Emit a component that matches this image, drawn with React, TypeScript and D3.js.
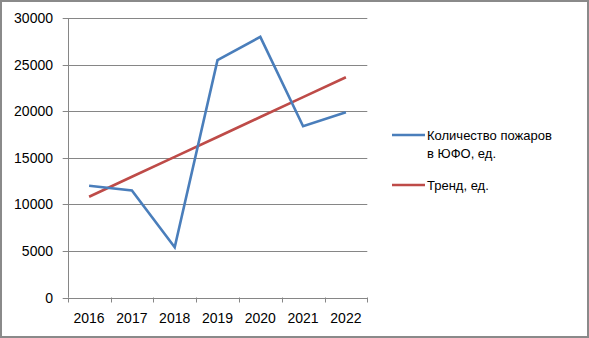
import { useEffect, useRef } from 'react'
import * as d3 from 'd3'

const years = ['2016', '2017', '2018', '2019', '2020', '2021', '2022']
const fires = [12000, 11500, 5400, 25500, 28000, 18400, 19900]
const trend = [10830, 12970, 15110, 17250, 19390, 21530, 23670]
const yTicks = [0, 5000, 10000, 15000, 20000, 25000, 30000]

const W = 589
const H = 338
const PLOT = { left: 67.7, right: 367.3, top: 18.3, bottom: 297.5 }
const FONT = '"Liberation Sans", Arial, sans-serif'
const BLUE = '#4a7ebb'
const RED = '#be4b48'
const GRID = '#868686'

export default function App() {
  const ref = useRef<SVGSVGElement>(null)

  useEffect(() => {
    if (!ref.current) return
    const svg = d3.select(ref.current)
    svg.selectAll('*').remove()

    svg.append('rect').attr('width', W).attr('height', H).attr('fill', '#fff')
    svg.append('rect')
      .attr('x', 1).attr('y', 1).attr('width', W - 2).attr('height', H - 2)
      .attr('fill', 'none').attr('stroke', '#8a8a8a').attr('stroke-width', 2)

    const x = d3.scaleBand().domain(years).range([PLOT.left, PLOT.right])
    const y = d3.scaleLinear().domain([0, 30000]).range([PLOT.bottom, PLOT.top])
    const cx = (d: string) => x(d)! + x.bandwidth() / 2

    // gridlines + y ticks
    const g = svg.append('g')
    g.selectAll('.grid').data(yTicks).join('line')
      .attr('x1', PLOT.left - 5).attr('x2', PLOT.right)
      .attr('y1', d => Math.round(y(d)) + 0.5).attr('y2', d => Math.round(y(d)) + 0.5)
      .attr('stroke', GRID).attr('stroke-width', 1)
    g.selectAll('.ylab').data(yTicks).join('text')
      .attr('x', 53).attr('y', d => y(d) + 5)
      .attr('text-anchor', 'end')
      .attr('font-family', FONT).attr('font-size', 14).attr('fill', '#000')
      .text(d => String(d))

    // y axis line
    g.append('line')
      .attr('x1', Math.round(PLOT.left) + 0.5).attr('x2', Math.round(PLOT.left) + 0.5)
      .attr('y1', PLOT.top).attr('y2', PLOT.bottom)
      .attr('stroke', GRID)

    // x tick marks at band edges
    const edges = years.map(d => x(d)!).concat([PLOT.right])
    g.selectAll('.xtick').data(edges).join('line')
      .attr('x1', d => Math.round(d) + 0.5).attr('x2', d => Math.round(d) + 0.5)
      .attr('y1', PLOT.bottom).attr('y2', PLOT.bottom + 5)
      .attr('stroke', GRID)
    g.selectAll('.xlab').data(years).join('text')
      .attr('x', d => cx(d)).attr('y', 323)
      .attr('text-anchor', 'middle')
      .attr('font-family', FONT).attr('font-size', 14).attr('fill', '#000')
      .text(d => d)

    // series
    const line = d3.line<number>()
      .x((_, i) => cx(years[i]))
      .y(d => y(d))

    svg.append('path').datum(trend)
      .attr('d', line).attr('fill', 'none')
      .attr('stroke', RED).attr('stroke-width', 2.6).attr('stroke-linejoin', 'round')
    svg.append('path').datum(fires)
      .attr('d', line).attr('fill', 'none')
      .attr('stroke', BLUE).attr('stroke-width', 2.6).attr('stroke-linejoin', 'miter')

    // legend
    const legend = [
      { color: BLUE, lines: ['Количество пожаров', 'в ЮФО, ед.'], y: 135 },
      { color: RED, lines: ['Тренд, ед.'], y: 185 },
    ]
    legend.forEach(item => {
      svg.append('line')
        .attr('x1', 392).attr('x2', 425)
        .attr('y1', item.y).attr('y2', item.y)
        .attr('stroke', item.color).attr('stroke-width', 2.6)
      item.lines.forEach((t, i) => {
        svg.append('text')
          .attr('x', 427).attr('y', item.y + 5 + i * 18)
          .attr('font-family', FONT).attr('font-size', 13).attr('fill', '#000')
          .text(t)
      })
    })
  }, [])

  return (
    <svg
      ref={ref}
      width={W}
      height={H}
      style={{ position: 'fixed', left: 0, top: 0, display: 'block' }}
    />
  )
}
